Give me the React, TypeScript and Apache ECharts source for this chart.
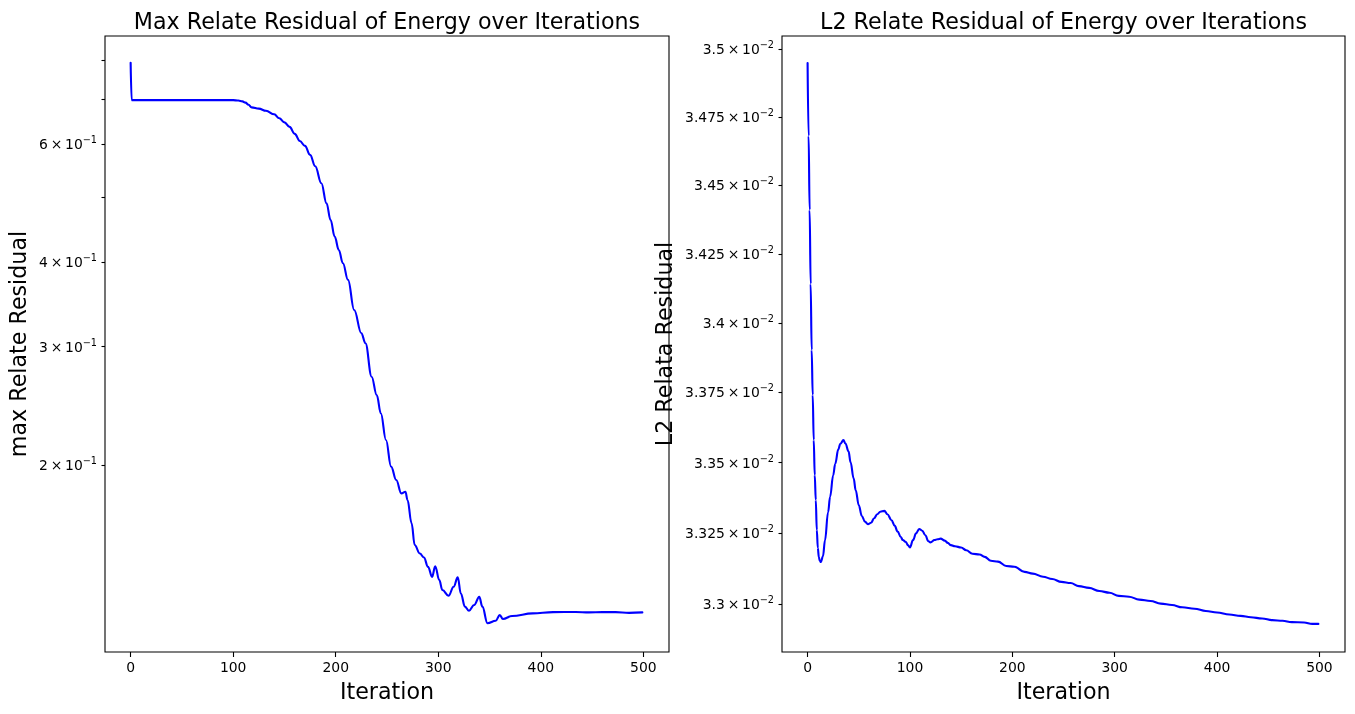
import React, { useEffect, useRef } from "react";
import * as echarts from "echarts";

const FONT = "DejaVu Sans";

// Left panel: max relative residual per iteration
const leftIter = [0, 1, 50, 100, 105, 109, 112, 115, 118, 125, 132, 140, 145, 150, 155, 160, 165, 170, 175, 180, 186, 191, 195, 199, 203, 207, 212, 218, 225, 229, 235, 240, 244, 249, 254, 259, 264, 268, 270, 274, 277, 282, 286, 290, 294, 297, 301, 304, 310, 315, 319, 322, 326, 330, 335, 340, 343, 348, 356, 360, 363, 372, 392, 412, 434, 447, 460, 473, 486, 499];
const leftResidual = [0.792, 0.697, 0.697, 0.697, 0.696, 0.694, 0.691, 0.686, 0.68, 0.677, 0.672, 0.664, 0.655, 0.646, 0.636, 0.621, 0.606, 0.596, 0.578, 0.556, 0.5245, 0.4898, 0.4625, 0.437, 0.4175, 0.3989, 0.3768, 0.3399, 0.3139, 0.3034, 0.2706, 0.2541, 0.2387, 0.2179, 0.1989, 0.19, 0.1815, 0.1825, 0.1774, 0.1638, 0.1521, 0.1478, 0.1458, 0.1412, 0.1364, 0.1415, 0.1349, 0.1304, 0.1279, 0.1319, 0.1362, 0.1289, 0.1232, 0.1215, 0.1239, 0.1274, 0.1232, 0.1164, 0.1174, 0.1197, 0.1181, 0.1193, 0.1204, 0.1209, 0.121, 0.1208, 0.1209, 0.1209, 0.1206, 0.1208];

// Right panel: L2 relative residual per iteration
const rightIter = [0, 1, 2, 3, 4, 5, 6, 7, 8, 9, 10, 11, 12, 13, 15, 17, 20, 22, 25, 27, 30, 32, 35, 37, 40, 42, 45, 47, 50, 53, 56, 59, 62, 65, 68, 71, 75, 78, 82, 85, 88, 91, 93, 96, 98, 100, 103, 106, 109, 112, 115, 118, 120, 124, 127, 130, 134, 137, 140, 144, 150, 155, 161, 168, 173, 179, 186, 194, 202, 212, 220, 230, 239, 248, 257, 265, 275, 285, 295, 304, 314, 324, 335, 345, 356, 366, 378, 389, 400, 412, 423, 433, 444, 454, 464, 473, 485, 493, 499];
const rightResidual = [0.03495, 0.03468, 0.034409, 0.03414, 0.033902, 0.033741, 0.03358, 0.033455, 0.033367, 0.033261, 0.033198, 0.033166, 0.033152, 0.033149, 0.033169, 0.033225, 0.033324, 0.033379, 0.033455, 0.033496, 0.033547, 0.033567, 0.03358, 0.033568, 0.03354, 0.033501, 0.033444, 0.033402, 0.033349, 0.033311, 0.033291, 0.033282, 0.033287, 0.033303, 0.033317, 0.033326, 0.033329, 0.033317, 0.033296, 0.033277, 0.033256, 0.033237, 0.033226, 0.033219, 0.033208, 0.0332, 0.033226, 0.03325, 0.033265, 0.033259, 0.033243, 0.033222, 0.033218, 0.033226, 0.033229, 0.033231, 0.033224, 0.033216, 0.033208, 0.033204, 0.0332, 0.03319, 0.033178, 0.033175, 0.033167, 0.033153, 0.03315, 0.033135, 0.033132, 0.033114, 0.033108, 0.033097, 0.033089, 0.033079, 0.033075, 0.033064, 0.033058, 0.033047, 0.033041, 0.03303, 0.033027, 0.033017, 0.033012, 0.033003, 0.032998, 0.03299, 0.032985, 0.032977, 0.032972, 0.032965, 0.03296, 0.032955, 0.032951, 0.032945, 0.032943, 0.032938, 0.032937, 0.032932, 0.032932];

const xTicks = [0, 100, 200, 300, 400, 500];
const leftYTicks = [0.2, 0.3, 0.4, 0.5, 0.6, 0.7, 0.8];
const leftYLabels = [0.2, 0.3, 0.4, 0.6];
const rightYTicks = [0.033, 0.03325, 0.0335, 0.03375, 0.034, 0.03425, 0.0345, 0.03475, 0.035];

const titles = ["Max Relate Residual of Energy over Iterations", "L2 Relate Residual of Energy over Iterations"];
const xName = "Iteration";
const yNames = ["max Relate Residual", "L2 Relata Residual"];

const lg = (v: number) => Math.log10(v);

const sciFormatter = (exp: number) => (v: number) => {
  const raw = Math.pow(10, v);
  const m = Number((raw / Math.pow(10, exp)).toFixed(3));
  return `{b|${m}\u2009×\u200910}{s|−${Math.abs(exp)}}`;
};

const rich = {
  b: { fontSize: 13.9, color: "#000", fontFamily: FONT },
  s: { fontSize: 9.7, color: "#000", fontFamily: FONT, padding: [0, 0, 9, 0] },
};

export default function App() {
  const ref = useRef<HTMLDivElement>(null);
  useEffect(() => {
    if (!ref.current) return;
    const chart = echarts.init(ref.current, null, { renderer: "svg" });
    const tickLine = { color: "#000", width: 1.1 };
    const xAxis = [0, 1].map((i) => ({
      type: "value",
      gridIndex: i,
      position: "bottom",
      min: -25,
      max: 525,
      name: xName,
      nameLocation: "middle",
      nameGap: 28,
      nameTextStyle: { fontSize: 22.2, color: "#000", fontFamily: FONT },
      axisLine: { show: false, onZero: false },
      splitLine: { show: false },
      axisTick: { show: true, customValues: xTicks, length: 5, lineStyle: tickLine },
      axisLabel: { customValues: xTicks, fontSize: 13.9, color: "#000", margin: 8, fontFamily: FONT },
    }));
    const yAxis = [
      {
        type: "value",
        gridIndex: 0,
        position: "left",
        min: lg(0.1055),
        max: lg(0.868),
        name: yNames[0],
        nameLocation: "middle",
        nameGap: 76,
        nameTextStyle: { fontSize: 22.2, color: "#000", fontFamily: FONT },
        axisLine: { show: false, onZero: false },
        splitLine: { show: false },
        axisTick: { show: true, customValues: leftYTicks.map(lg), length: 3.5, lineStyle: tickLine },
        axisLabel: { customValues: leftYLabels.map(lg), margin: 8, formatter: sciFormatter(-1), rich },
      },
      {
        type: "value",
        gridIndex: 1,
        position: "left",
        min: lg(0.032834),
        max: lg(0.03505),
        name: yNames[1],
        nameLocation: "middle",
        nameGap: 107,
        nameTextStyle: { fontSize: 22.2, color: "#000", fontFamily: FONT },
        axisLine: { show: false, onZero: false },
        splitLine: { show: false },
        axisTick: { show: true, customValues: rightYTicks.map(lg), length: 3.5, lineStyle: tickLine },
        axisLabel: { customValues: rightYTicks.map(lg), margin: 8, formatter: sciFormatter(-2), rich },
      },
    ];
    const lineStyle = { color: "#0000ff", width: 2.1, cap: "round", join: "round" };
    chart.setOption({
      animation: false,
      textStyle: { fontFamily: FONT },
      grid: [
        { left: 105, top: 36, width: 564, height: 616, show: true, borderColor: "#000", borderWidth: 1.1, backgroundColor: "transparent" },
        { left: 782, top: 36, width: 563, height: 616, show: true, borderColor: "#000", borderWidth: 1.1, backgroundColor: "transparent" },
      ],
      graphic: [
        { type: "text", x: 387, y: 21, style: { text: titles[0], fontSize: 22.2, fontFamily: FONT, fill: "#000", textAlign: "center", textVerticalAlign: "middle" } },
        { type: "text", x: 1063.5, y: 21, style: { text: titles[1], fontSize: 22.2, fontFamily: FONT, fill: "#000", textAlign: "center", textVerticalAlign: "middle" } },
      ],
      xAxis,
      yAxis,
      series: [
        {
          type: "line",
          xAxisIndex: 0,
          yAxisIndex: 0,
          data: leftIter.map((x, i) => [x, lg(leftResidual[i])]),
          symbol: "none",
          smooth: 0.4,
          smoothMonotone: "x",
          lineStyle,
        },
        {
          type: "line",
          xAxisIndex: 1,
          yAxisIndex: 1,
          data: rightIter.map((x, i) => [x, lg(rightResidual[i])]),
          symbol: "none",
          smooth: 0.4,
          smoothMonotone: "x",
          lineStyle,
        },
      ],
    });
    return () => chart.dispose();
  }, []);
  return <div ref={ref} style={{ position: "fixed", left: 0, top: 0, width: 1355, height: 714 }} />;
}
